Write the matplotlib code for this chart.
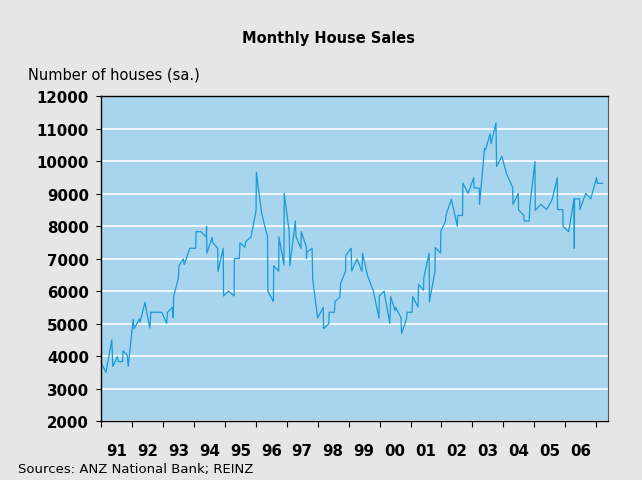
import matplotlib
matplotlib.use('Agg')
import matplotlib.pyplot as plt
import numpy as np

# decimal year of each vertex and the number of houses sold (sa.)
dates = [1991.00, 1991.16, 1991.35, 1991.38, 1991.53, 1991.56, 1991.70, 1991.71, 1991.85, 1991.88,
         1992.04, 1992.07, 1992.24, 1992.26, 1992.42, 1992.58, 1992.61, 1992.96, 1993.12, 1993.15,
         1993.32, 1993.33, 1993.35, 1993.50, 1993.52, 1993.66, 1993.69, 1993.87, 1994.06, 1994.07,
         1994.23, 1994.40, 1994.41, 1994.42, 1994.59, 1994.61, 1994.77, 1994.78, 1994.95, 1994.96,
         1995.12, 1995.30, 1995.31, 1995.47, 1995.49, 1995.65, 1995.67, 1995.85, 1996.01, 1996.02,
         1996.19, 1996.38, 1996.39, 1996.57, 1996.58, 1996.74, 1996.75, 1996.91, 1996.92, 1997.08,
         1997.10, 1997.28, 1997.30, 1997.46, 1997.47, 1997.63, 1997.64, 1997.65, 1997.82, 1997.84,
         1998.00, 1998.18, 1998.19, 1998.36, 1998.37, 1998.54, 1998.56, 1998.72, 1998.74, 1998.90,
         1998.91, 1999.08, 1999.10, 1999.27, 1999.43, 1999.45, 1999.61, 1999.80, 1999.98, 1999.99,
         2000.15, 2000.17, 2000.33, 2000.36, 2000.50, 2000.52, 2000.69, 2000.71, 2000.87, 2000.89,
         2001.05, 2001.07, 2001.24, 2001.26, 2001.42, 2001.43, 2001.60, 2001.61, 2001.79, 2001.80,
         2001.97, 2001.98, 2002.13, 2002.14, 2002.32, 2002.51, 2002.52, 2002.68, 2002.69, 2002.86,
         2003.04, 2003.05, 2003.22, 2003.23, 2003.39, 2003.42, 2003.57, 2003.60, 2003.76, 2003.78,
         2003.95, 2004.10, 2004.30, 2004.31, 2004.48, 2004.49, 2004.66, 2004.67, 2004.83, 2004.86,
         2005.02, 2005.03, 2005.21, 2005.40, 2005.58, 2005.74, 2005.75, 2005.92, 2005.93, 2006.11,
         2006.28, 2006.29, 2006.30, 2006.46, 2006.47, 2006.66, 2006.82, 2007.01, 2007.03, 2007.20]
sales = [3800, 3500, 4500, 3680, 3980, 3830, 3830, 4160, 4030, 3680,
         5140, 4840, 5140, 5040, 5650, 4860, 5350, 5350, 5010, 5350,
         5500, 5180, 5860, 6390, 6780, 6990, 6820, 7320, 7320, 7830,
         7830, 7670, 8000, 7170, 7650, 7500, 7320, 6600, 7320, 5850,
         6000, 5850, 7000, 7000, 7490, 7350, 7520, 7670, 8490, 9660,
         8390, 7670, 6000, 5680, 6780, 6610, 7670, 6800, 9010, 7830,
         6780, 8160, 7670, 7320, 7830, 7370, 7000, 7200, 7320, 6360,
         5170, 5500, 4840, 5000, 5350, 5350, 5680, 5820, 6240, 6610,
         7100, 7320, 6620, 6990, 6610, 7160, 6480, 6000, 5170, 5850,
         6000, 5850, 5010, 5830, 5390, 5500, 5190, 4690, 5140, 5350,
         5350, 5830, 5510, 6210, 6030, 6420, 7170, 5670, 6610, 7340,
         7170, 7850, 8150, 8330, 8830, 8000, 8330, 8330, 9330, 9010,
         9490, 9180, 9170, 8670, 10400, 10350, 10840, 10540, 11170, 9840,
         10150, 9620, 9190, 8670, 9010, 8500, 8330, 8160, 8160, 8670,
         9990, 8490, 8670, 8510, 8840, 9490, 8510, 8510, 7990, 7830,
         8840, 7320, 8840, 8840, 8510, 9010, 8840, 9490, 9320, 9320]

years = list(range(1991, 2008))
year_labels = ['91', '92', '93', '94', '95', '96', '97', '98', '99', '00',
               '01', '02', '03', '04', '05', '06']
yticks = list(range(2000, 12001, 1000))

fig = plt.figure(figsize=(6.42, 4.81), dpi=100, facecolor='#e6e6e6')
ax = fig.add_axes([0.1573, 0.1227, 0.7893, 0.675])
ax.set_facecolor('#a8d5ee')

ax.plot(dates, sales, color='#1a9ad6', linewidth=0.9)

ax.set_xlim(1991.0, 2007.37)
ax.set_ylim(2000, 12000)

ax.set_yticks(yticks)
ax.set_yticklabels([str(v) for v in yticks], fontweight='bold', fontsize=10.8)
ax.yaxis.grid(True, color='white', linewidth=1.2)
ax.set_axisbelow(True)

ax.set_xticks(years)
ax.set_xticklabels([''] * len(years))
ax.set_xticks([y + 0.5 for y in years[:-1]], minor=True)
ax.set_xticklabels(year_labels, minor=True, fontweight='bold', fontsize=10.8)
ax.tick_params(axis='x', which='major', direction='out', length=4, width=0.8)
ax.tick_params(axis='x', which='minor', length=0, pad=16)
ax.tick_params(axis='y', direction='out', length=3.6, width=0.8, pad=5)

for s in ['left', 'bottom', 'top']:
    ax.spines[s].set_color('black')
    ax.spines[s].set_linewidth(1.0)
ax.spines['right'].set_color('#555555')

fig.text(0.511, 0.919, 'Monthly House Sales', ha='center', va='center',
         fontweight='bold', fontsize=10.5)
fig.text(0.044, 0.844, 'Number of houses (sa.)', ha='left', va='center', fontsize=10.5)
fig.text(0.028, 0.023, 'Sources: ANZ National Bank; REINZ', ha='left', va='center', fontsize=9.5)

fig.savefig('out.png', dpi=100, facecolor=fig.get_facecolor())
